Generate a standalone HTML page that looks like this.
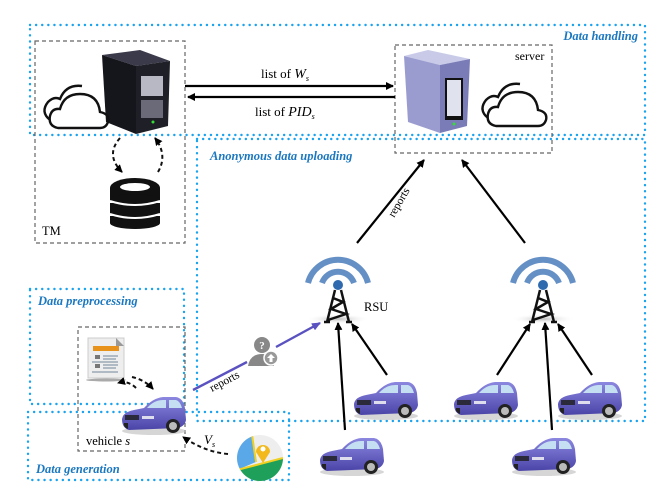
<!DOCTYPE html>
<html><head><meta charset="utf-8"><style>
html,body{margin:0;padding:0;background:#fff}
svg{display:block}
text{font-family:"Liberation Serif",serif}
.lbl{font-weight:bold;font-style:italic;fill:#1b78c0;font-size:12.5px}
</style></head><body>
<svg width="664" height="498" viewBox="0 0 664 498" xmlns="http://www.w3.org/2000/svg">
<defs>
<marker id="ah" markerWidth="8" markerHeight="8" refX="7" refY="4" orient="auto" markerUnits="userSpaceOnUse"><path d="M0,0 L8,4 L0,8 Z" fill="#000"/></marker>
<marker id="ahp" markerWidth="9" markerHeight="8" refX="8" refY="4" orient="auto" markerUnits="userSpaceOnUse"><path d="M0,0 L9,4 L0,8 Z" fill="#5a52c0"/></marker>
<linearGradient id="cb" x1="0" y1="0" x2="0" y2="1"><stop offset="0" stop-color="#8c88e0"/><stop offset="1" stop-color="#4a44a8"/></linearGradient>
<radialGradient id="sh"><stop offset="0" stop-color="#bbb"/><stop offset="1" stop-color="#fff" stop-opacity="0"/></radialGradient>
<g id="car">
<ellipse cx="34" cy="38" rx="32" ry="4" fill="#bbb" opacity="0.6"/>
<path d="M2,26 Q3,19 14,17 L24,15 Q33,5 43,4 L56,4 Q63,5 65,15 L66,27 Q65,33 58,35 L9,37 Q2,35 2,26Z" fill="url(#cb)"/>
<path d="M27,15 Q34,7 43,7 L46,7 L46,15Z" fill="#c4def2"/>
<path d="M49,7 L56,7 Q60,8 62,15 L49,15Z" fill="#c4def2"/>
<rect x="5" y="22" width="14" height="5" fill="#2a2a3a"/>
<rect x="22" y="23" width="12" height="3" fill="#dde"/>
<circle cx="53" cy="33" r="7" fill="#222"/><circle cx="53" cy="33" r="4" fill="#bbb"/>
<path d="M8,36 Q3,34 4,30 L8,30Z" fill="#222"/>
</g>
<g id="rsu">
<path d="M-30,-2 A31,31 0 0 1 30,-2" fill="none" stroke="#3e74b8" stroke-width="6" opacity="0.8"/>
<path d="M-16,-2 A17,17 0 0 1 16,-2" fill="none" stroke="#3e74b8" stroke-width="6" opacity="0.8"/>
<ellipse cx="0" cy="34" rx="32" ry="5" fill="url(#sh)"/>
<circle cx="0" cy="0" r="5" fill="#2f6aae"/>
<path d="M-3,5 L-11,37 M3,5 L11,37 M-5,13 L5,17 L-7,24 L8,29 L-10,35 M-14,37 L-8,37 M8,37 L14,37" fill="none" stroke="#111" stroke-width="2.5"/>
</g>
<g id="cloud" fill="none" stroke="#111" stroke-width="2.4">
<path d="M10,38 Q0,30 8,20 Q14,14 20,17 Q26,2 42,4"/>
<path d="M18,46 Q8,44 10,34 Q12,26 20,27 Q24,12 40,12 Q58,12 60,30 Q70,32 68,40 Q66,46 60,46 Z"/>
</g>
</defs>

<g fill="none" stroke="#1aa3ee" stroke-width="2.4" stroke-dasharray="0.1 6" stroke-linecap="round">
<rect x="30" y="25" width="615" height="110"/>
<path d="M197,139 L645,139 L645,421 L197,421 Z"/>
<rect x="30" y="289" width="154" height="115"/>
<rect x="28" y="412" width="261" height="68"/>
</g>
<text class="lbl" x="638" y="40" text-anchor="end">Data handling</text>
<text class="lbl" x="210" y="160">Anonymous data uploading</text>
<text class="lbl" x="38" y="305">Data preprocessing</text>
<text class="lbl" x="36" y="473">Data generation</text>

<g fill="none" stroke="#666" stroke-width="1.2" stroke-dasharray="4 3">
<rect x="35" y="41" width="150" height="202"/>
<rect x="395" y="45" width="157" height="108"/>
<rect x="78" y="327" width="107" height="124"/>
</g>
<text x="42" y="235" font-size="12.5">TM</text>
<text x="515" y="60" font-size="12">server</text>
<text x="86" y="445" font-size="12.5">vehicle <tspan font-style="italic">s</tspan></text>

<polygon points="102,55 140,50 170,61 136,66" fill="#3a3a4a"/>
<polygon points="102,55 136,66 136,134 106,122" fill="#15151c"/>
<polygon points="136,66 170,61 168,126 136,134" fill="#1f1f28"/>
<rect x="141" y="76" width="22" height="20" fill="#b8b8c4"/>
<rect x="141" y="100" width="22" height="18" fill="#6a6a78"/>
<circle cx="153" cy="122" r="1.5" fill="#3d3"/>
<use href="#cloud" x="40" y="82"/>
<g fill="#111">
<ellipse cx="135" cy="188" rx="25" ry="10"/>
<rect x="110" y="188" width="50" height="12"/>
<ellipse cx="135" cy="200" rx="25" ry="6"/>
<rect x="110" y="203" width="50" height="10"/>
<ellipse cx="135" cy="213" rx="25" ry="6"/>
<rect x="110" y="216" width="50" height="7"/>
<ellipse cx="135" cy="223" rx="25" ry="6"/>
</g>
<ellipse cx="135" cy="187" rx="15" ry="4" fill="#fff"/>
<path d="M110,201 Q135,209 160,201 M110,214 Q135,222 160,214" stroke="#fff" stroke-width="2" fill="none"/>
<path d="M120,138 Q105,155 122,172" fill="none" stroke="#111" stroke-width="2" stroke-dasharray="4 3" marker-end="url(#ah)"/>
<path d="M158,172 Q168,155 155,138" fill="none" stroke="#111" stroke-width="2" stroke-dasharray="4 3" marker-end="url(#ah)"/>

<line x1="185" y1="86" x2="393" y2="86" stroke="#000" stroke-width="2.2" marker-end="url(#ah)"/>
<line x1="395" y1="97" x2="188" y2="97" stroke="#000" stroke-width="2.2" marker-end="url(#ah)"/>
<text x="261" y="78" font-size="13">list of <tspan font-style="italic" font-size="14">W</tspan><tspan font-style="italic" font-size="8" dy="3">s</tspan></text>
<text x="255" y="116" font-size="13">list of <tspan font-style="italic" font-size="14">PID</tspan><tspan font-style="italic" font-size="8" dy="3">s</tspan></text>

<polygon points="404,56 428,50 470,59 440,65" fill="#c8cae8"/>
<polygon points="404,56 440,65 440,133 408,122" fill="#9a9cd0"/>
<polygon points="440,65 470,59 467,126 440,133" fill="#7a7cb8"/>
<rect x="445" y="78" width="18" height="42" fill="#111"/>
<rect x="447" y="80" width="14" height="36" fill="#e0e2ee"/>
<circle cx="454" cy="124" r="1.5" fill="#3d3"/>
<use href="#cloud" x="478" y="80"/>

<use href="#rsu" x="338" y="285"/>
<use href="#rsu" x="543" y="285"/>
<text x="364" y="311" font-size="12.5">RSU</text>

<line x1="357" y1="243" x2="424" y2="160" stroke="#000" stroke-width="2.2" marker-end="url(#ah)"/>
<line x1="525" y1="243" x2="462" y2="160" stroke="#000" stroke-width="2.2" marker-end="url(#ah)"/>
<text x="0" y="0" font-size="11.5" transform="translate(394,218) rotate(-60)">reports</text>

<g stroke="#000" stroke-width="2.2" marker-end="url(#ah)">
<line x1="345" y1="430" x2="338" y2="323"/>
<line x1="387" y1="375" x2="352" y2="324"/>
<line x1="497" y1="375" x2="530" y2="324"/>
<line x1="552" y1="430" x2="545" y2="323"/>
<line x1="592" y1="375" x2="558" y2="324"/>
</g>
<use href="#car" x="352" y="378"/>
<use href="#car" x="452" y="378"/>
<use href="#car" x="556" y="378"/>
<use href="#car" x="318" y="434"/>
<use href="#car" x="510" y="434"/>
<use href="#car" x="120" y="393"/>

<rect x="88" y="338" width="36" height="40" fill="#eee" stroke="#ccc"/>
<path d="M116,338 L124,346 L116,346Z" fill="#999"/>
<rect x="93" y="346" width="26" height="5" fill="#e8921c"/>
<rect x="95" y="355" width="5" height="4" fill="#777"/><rect x="95" y="364" width="5" height="4" fill="#777"/>
<path d="M103,356 H118 M103,359 H116 M92,362 H118 M103,365 H118 M103,368 H116 M92,372 H118" stroke="#8a9aaa" stroke-width="1.2"/>
<ellipse cx="106" cy="380" rx="20" ry="1.5" fill="#aaa"/>
<path d="M136,388 Q128,380 118,383" fill="none" stroke="#111" stroke-width="2" stroke-dasharray="4 3" marker-end="url(#ah)"/>
<path d="M132,377 Q145,380 153,389" fill="none" stroke="#111" stroke-width="2" stroke-dasharray="4 3" marker-end="url(#ah)"/>

<line x1="193" y1="390" x2="247" y2="362" stroke="#5a52c0" stroke-width="2.4"/>
<line x1="276" y1="347" x2="320" y2="323" stroke="#5a52c0" stroke-width="2.4" marker-end="url(#ahp)"/>
<text x="0" y="0" font-size="11.5" transform="translate(212,392) rotate(-28)">reports</text>
<circle cx="262" cy="345" r="8" fill="#888"/>
<text x="262" y="349" font-size="11" font-weight="bold" fill="#fff" text-anchor="middle" font-family="Liberation Sans">?</text>
<path d="M248,366 Q250,354 262,354 Q272,354 274,362 L274,366Z" fill="#888"/>
<circle cx="271" cy="358" r="7" fill="#999" stroke="#fff" stroke-width="1.5"/>
<path d="M271,354 L275,358 H272.5 V362 H269.5 V358 H267Z" fill="#fff"/>

<clipPath id="mc"><circle cx="260" cy="458" r="23"/></clipPath>
<g clip-path="url(#mc)">
<rect x="237" y="435" width="46" height="46" fill="#eee"/>
<polygon points="237,435 252,435 256,462 237,470" fill="#5aa8e8"/>
<polygon points="237,470 283,458 283,481 237,481" fill="#1fa05a"/>
<path d="M237,470 L283,458 M252,435 L256,462" stroke="#f0d020" stroke-width="2" fill="none"/>
</g>
<path d="M263,463 L256,452 A7,7 0 1 1 270,452 Z" fill="#f2b81c"/>
<circle cx="263" cy="449" r="2.5" fill="#fff"/>
<path d="M228,454 Q205,452 183,437" fill="none" stroke="#111" stroke-width="2" stroke-dasharray="4 3" marker-end="url(#ah)"/>
<text x="204" y="444" font-size="13" font-style="italic">V<tspan font-size="8" dy="3">s</tspan></text>
</svg>
</body></html>
